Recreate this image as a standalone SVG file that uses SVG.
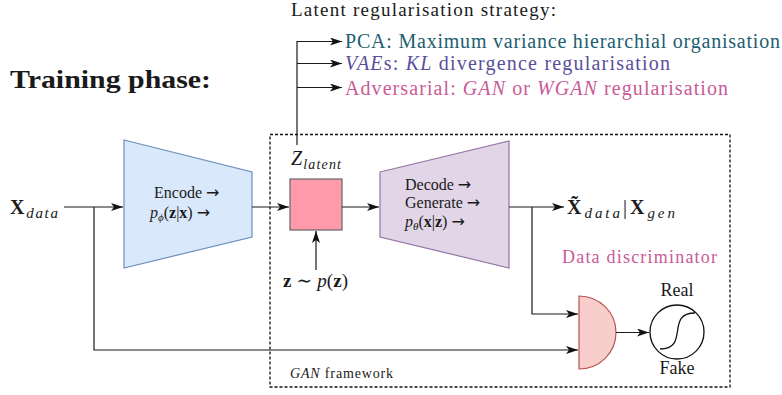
<svg xmlns="http://www.w3.org/2000/svg" width="782" height="395" viewBox="0 0 782 395">
<defs>
<style>
text { font-family: "Liberation Serif", "DejaVu Serif", serif; fill: #1a1a1a; }
.it { font-style: italic; }
.bf { font-weight: bold; }
.ar { font-family: "DejaVu Sans", sans-serif; font-size: 16px; }
.conn { fill: none; stroke: #1a1a1a; stroke-width: 1.2; }
.teal { fill: #205e72; }
.purp { fill: #5a4f9c; }
.pink { fill: #c95b97; }
</style>
<marker id="arr" viewBox="0 0 12 8" refX="12" refY="4" markerWidth="12" markerHeight="8" markerUnits="userSpaceOnUse" orient="auto">
<path d="M0,0 L12,4 L0,8 L3,4 Z" fill="#111"/>
</marker>
</defs>
<rect width="782" height="395" fill="#ffffff"/>

<g id="title">
<text x="10" y="88" font-size="26" class="bf" textLength="201" lengthAdjust="spacingAndGlyphs">Training phase:</text>
</g>

<g id="strategy">
<text x="291" y="16" font-size="19" textLength="265">Latent regularisation strategy:</text>
<text x="345" y="48" font-size="20" class="teal" textLength="435">PCA: Maximum variance hierarchial organisation</text>
<text x="345" y="70" font-size="20" class="purp" textLength="325"><tspan class="it">VAE</tspan>s: <tspan class="it">KL</tspan> divergence regularisation</text>
<text x="345" y="95" font-size="20" class="pink" textLength="383">Adversarial: <tspan class="it">GAN</tspan> or <tspan class="it">WGAN</tspan> regularisation</text>
</g>

<g id="gan-frame">
<rect x="270" y="134.5" width="460" height="252.5" fill="none" stroke="#111" stroke-width="1.3" stroke-dasharray="3,2"/>
<text x="290" y="378" font-size="14" textLength="103"><tspan class="it">GAN</tspan> framework</text>
</g>

<g id="input">
<text x="10" y="214" font-size="20" textLength="48"><tspan class="bf">X</tspan><tspan class="it" font-size="15" dy="4">data</tspan></text>
</g>

<g id="encoder">
<path d="M124,140 L252,172 L252,237 L124,268 Z" fill="#dae8fc" stroke="#6c8ebf" stroke-width="1.2"/>
<text x="154" y="198" font-size="16">Encode <tspan class="ar">→</tspan></text>
<text x="150" y="218" font-size="16"><tspan class="it">p</tspan><tspan class="it" font-size="11" dy="3">ϕ</tspan><tspan dy="-3">(</tspan><tspan class="bf">z</tspan>|<tspan class="bf">x</tspan>) <tspan class="ar">→</tspan></text>
</g>

<g id="latent">
<rect x="290" y="179" width="52" height="51" fill="#ff9aad" stroke="#666666" stroke-width="1.2"/>
<text x="291" y="165" font-size="20" textLength="50"><tspan class="it">Z</tspan><tspan class="it" font-size="14" dy="4">latent</tspan></text>
<text x="283" y="287" font-size="19" textLength="65"><tspan class="bf">z</tspan> ∼ <tspan class="it">p</tspan>(<tspan class="bf">z</tspan>)</text>
</g>

<g id="decoder">
<path d="M380,172 L509,141 L509,268 L380,237 Z" fill="#e1d5e7" stroke="#9673a6" stroke-width="1.2"/>
<text x="405" y="190" font-size="16">Decode <tspan class="ar">→</tspan></text>
<text x="405" y="208" font-size="16">Generate <tspan class="ar">→</tspan></text>
<text x="405" y="227" font-size="16"><tspan class="it">p</tspan><tspan class="it" font-size="11" dy="3">θ</tspan><tspan dy="-3">(</tspan><tspan class="bf">x</tspan>|<tspan class="bf">z</tspan>) <tspan class="ar">→</tspan></text>
</g>

<g id="output">
<text x="567" y="214" font-size="20" textLength="108"><tspan class="bf">X̃</tspan><tspan class="it" font-size="15" dy="4">data</tspan><tspan dy="-4">|</tspan><tspan class="bf">X</tspan><tspan class="it" font-size="15" dy="4">gen</tspan></text>
</g>

<g id="discriminator">
<text x="562" y="263" font-size="18" class="pink" textLength="155">Data discriminator</text>
<path d="M579,296 A37,36.5 0 0 1 579,369 Z" fill="#f8cecc" stroke="#b85450" stroke-width="1.2"/>
</g>

<g id="sigmoid">
<circle cx="677" cy="332" r="27" fill="#ffffff" stroke="#111" stroke-width="1.3"/>
<path d="M660,349 C690,349 665,313 695,313" fill="none" stroke="#111" stroke-width="1.3"/>
<text x="677" y="296" font-size="18" text-anchor="middle">Real</text>
<text x="677" y="374" font-size="18" text-anchor="middle">Fake</text>
</g>

<g id="connectors">
<path class="conn" d="M297,145 L297,41"/>
<path class="conn" d="M297,41.5 L342,41.5" marker-end="url(#arr)"/>
<path class="conn" d="M297,63.5 L342,63.5" marker-end="url(#arr)"/>
<path class="conn" d="M297,87.5 L342,87.5" marker-end="url(#arr)"/>
<path class="conn" d="M64,207 L123,207" marker-end="url(#arr)"/>
<path class="conn" d="M94,207 L94,350 L578,350" marker-end="url(#arr)"/>
<path class="conn" d="M252,207 L289,207" marker-end="url(#arr)"/>
<path class="conn" d="M342,207 L379,207" marker-end="url(#arr)"/>
<path class="conn" d="M509,207 L564,207" marker-end="url(#arr)"/>
<path class="conn" d="M532,207 L532,314 L578,314" marker-end="url(#arr)"/>
<path class="conn" d="M316,270 L316,231" marker-end="url(#arr)"/>
<path class="conn" d="M616,332.5 L649,332.5" marker-end="url(#arr)"/>
</g>
</svg>
